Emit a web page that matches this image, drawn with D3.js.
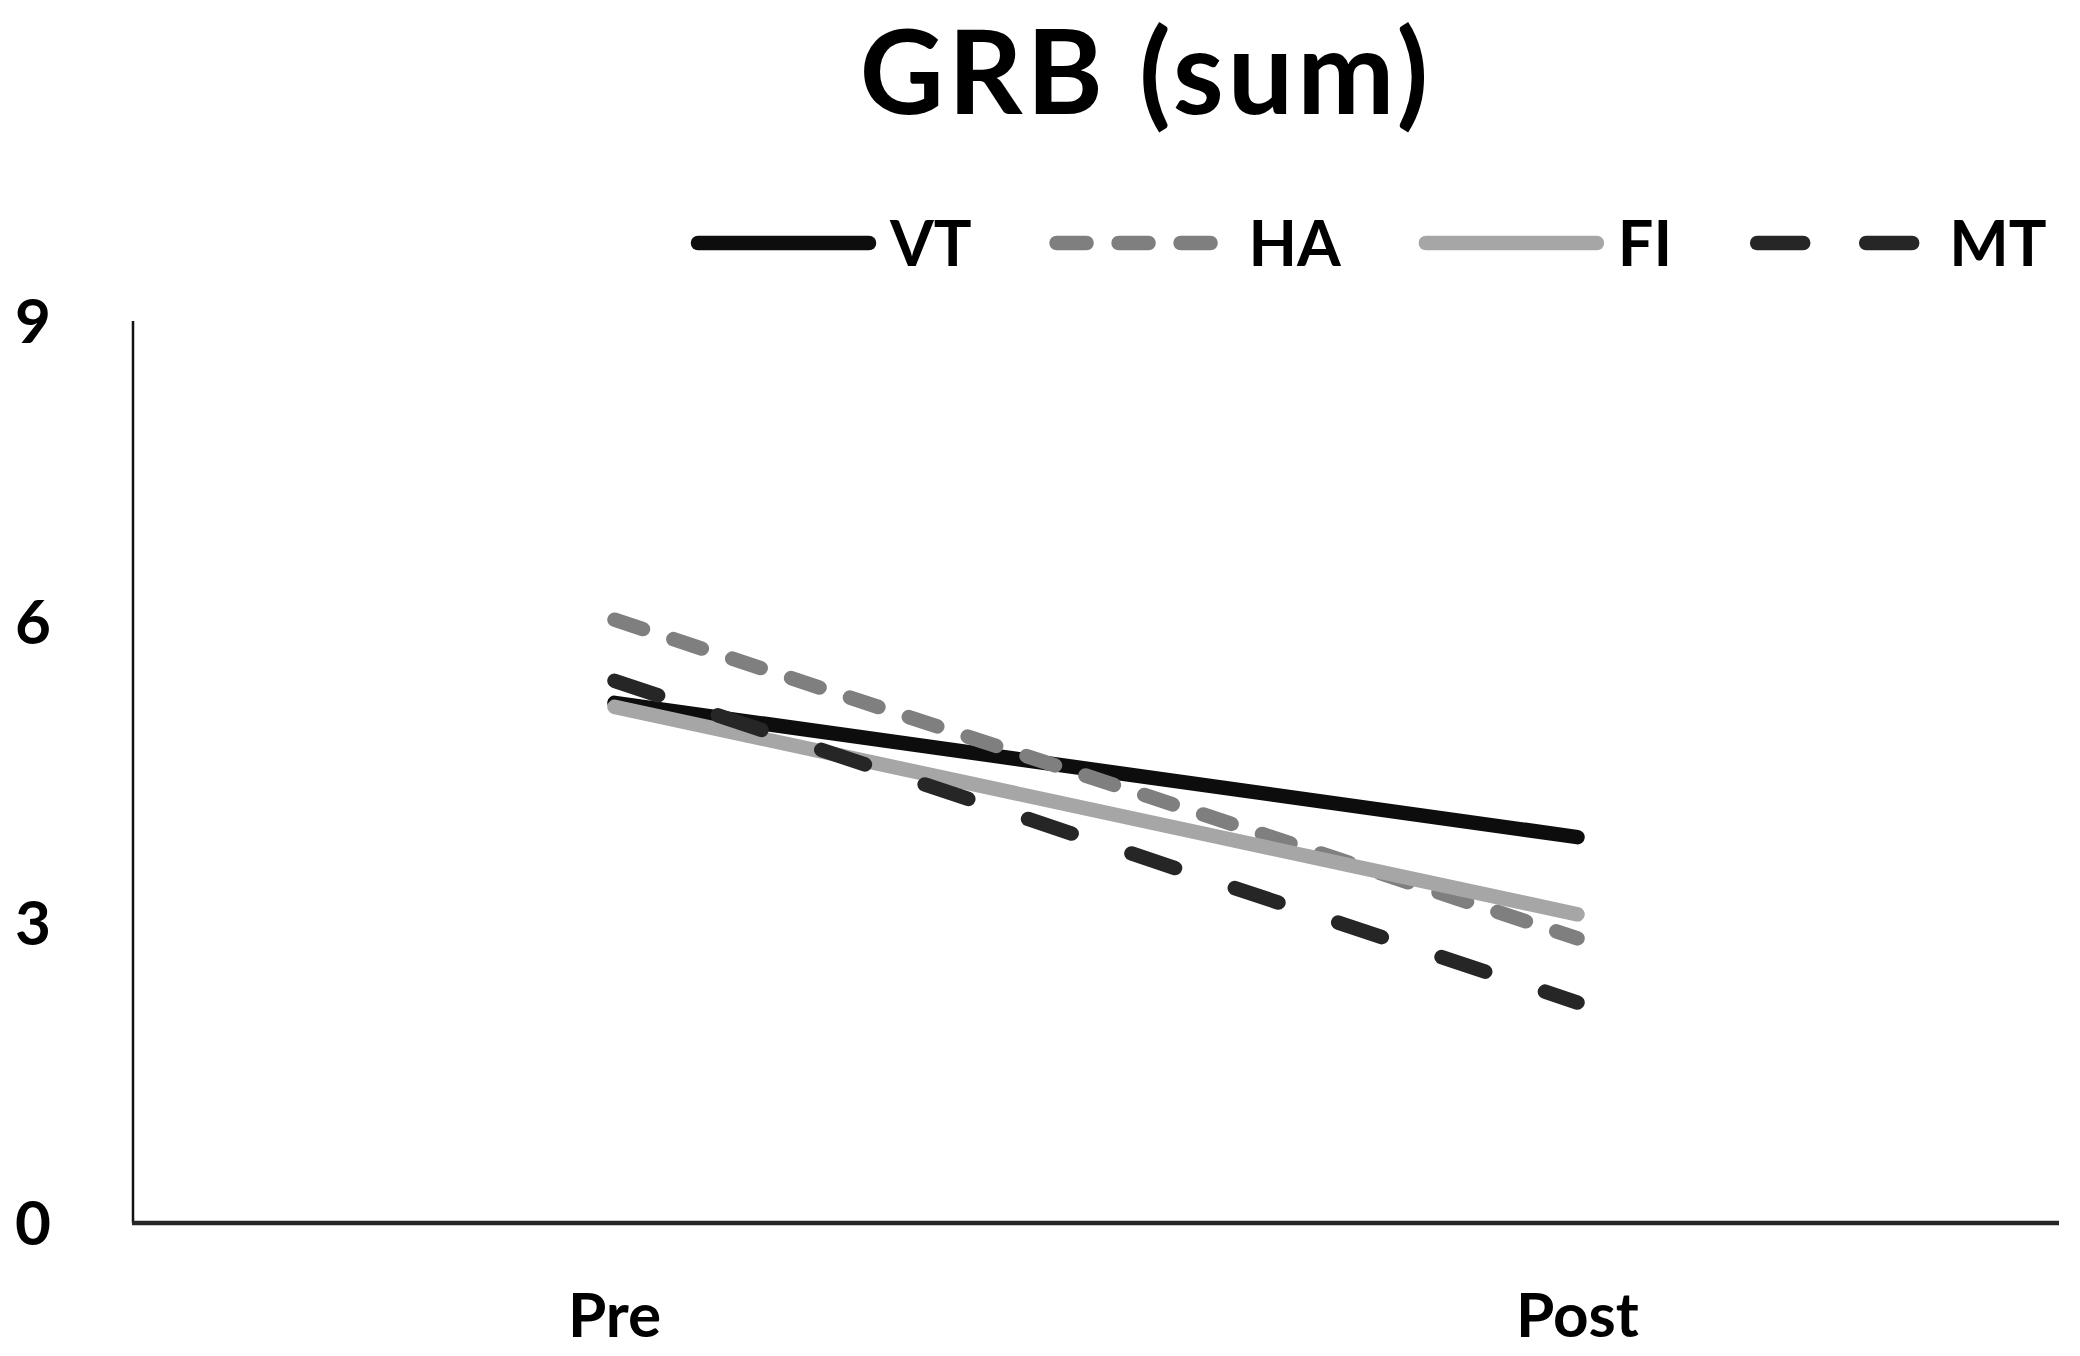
<!DOCTYPE html>
<html><head><meta charset="utf-8">
<script src="https://cdn.jsdelivr.net/npm/d3@7"></script>
<style>body{margin:0;background:#fff}svg{display:block}text{font-family:Lato,"Open Sans",sans-serif;font-weight:bold;fill:#000}</style>
</head><body>
<svg id="c" width="2080" height="1356"></svg>
<script>
const title = "GRB (sum)";
const categories = ["Pre", "Post"];
const seriesNames = ["VT", "HA", "FI", "MT"];
const vtValues = [5.19, 3.85];
const haValues = [6.02, 2.84];
const fiValues = [5.15, 3.08];
const mtValues = [5.41, 2.20];
const yTicks = [0, 3, 6, 9];
const seriesColors = ["#0d0d0d", "#7f7f7f", "#a6a6a6", "#262626"];
const seriesDash = [null, "30,32", null, "46,63"];

const series = [vtValues, haValues, fiValues, mtValues].map((v, i) => ({
  name: seriesNames[i], values: v, color: seriesColors[i], dash: seriesDash[i]
}));

const svg = d3.select("#c");
const L = 133, R = 2059, T = 321, B = 1223;
const x = d3.scalePoint().domain(categories).range([L, R]).padding(0.5);
const y = d3.scaleLinear().domain([0, 9]).range([B, T]);

// title
svg.append("text").attr("x", 1146).attr("y", 114).attr("text-anchor", "middle")
  .style("font-size", "116px").style("letter-spacing", "4px").text(title);

// axes
svg.append("line").attr("x1", L).attr("x2", L).attr("y1", y(9)).attr("y2", B)
  .attr("stroke", "#111").attr("stroke-width", 2.5);
svg.append("line").attr("x1", L - 1).attr("x2", R).attr("y1", B).attr("y2", B)
  .attr("stroke", "#262626").attr("stroke-width", 4.5);

svg.selectAll(".yt").data(yTicks).join("text").attr("class", "yt")
  .attr("x", 33).attr("y", d => y(d)).attr("dy", "0.36em").attr("text-anchor", "middle")
  .style("font-size", "62px").text(d => d);

svg.selectAll(".xt").data(categories).join("text").attr("class", "xt")
  .attr("x", d => x(d)).attr("y", 1337).attr("text-anchor", "middle")
  .style("font-size", "62px").text(d => d);

// lines
const line = d3.line().x((d, i) => x(categories[i])).y(d => y(d));
svg.selectAll(".s").data(series).join("path").attr("class", "s")
  .attr("d", d => line(d.values)).attr("fill", "none")
  .attr("stroke", d => d.color).attr("stroke-width", 14.5)
  .attr("stroke-linecap", "round")
  .attr("stroke-dasharray", d => d.dash);

// legend
let lx = 698;
const ly = 243;
series.forEach(s => {
  svg.append("line").attr("x1", lx).attr("x2", lx + 171).attr("y1", ly).attr("y2", ly)
    .attr("stroke", s.color).attr("stroke-width", 14.5).attr("stroke-linecap", "round")
    .attr("stroke-dasharray", s.dash);
  const t = svg.append("text").attr("x", lx + 192).attr("y", ly).attr("dy", "0.36em")
    .style("font-size", "63px").text(s.name);
  lx = lx + 192 + t.node().getComputedTextLength() + 85;
});
</script>
</body></html>
